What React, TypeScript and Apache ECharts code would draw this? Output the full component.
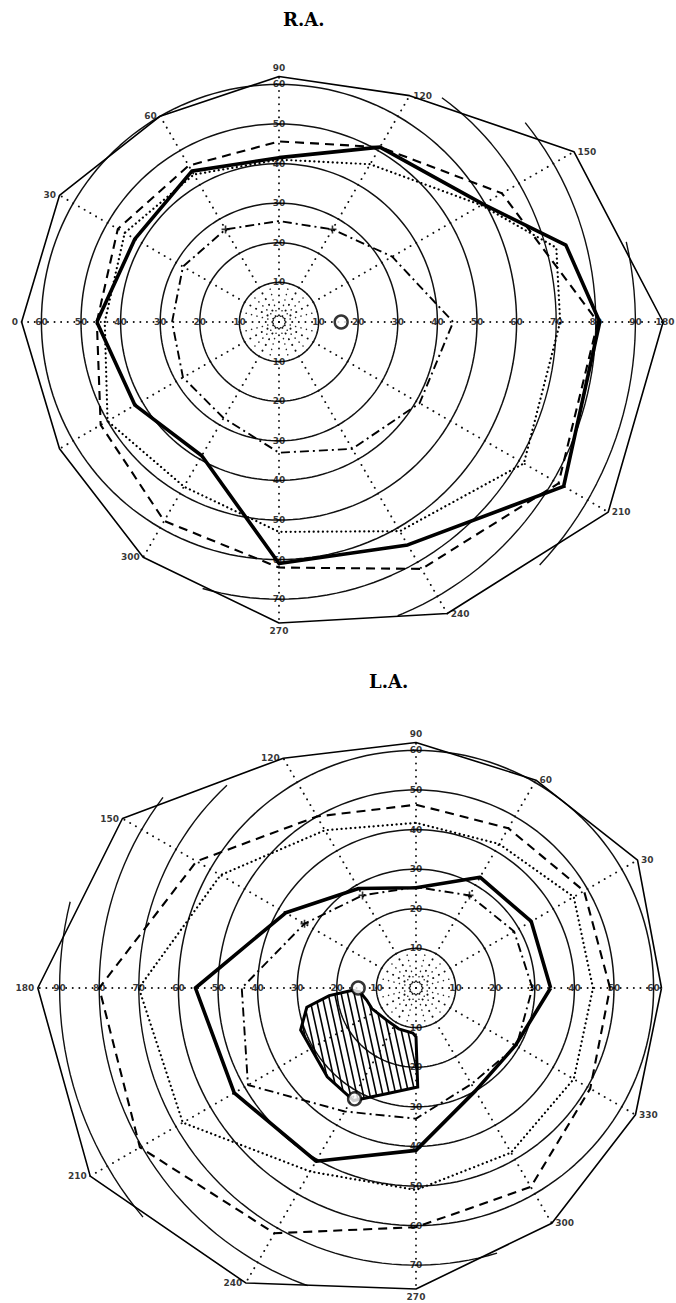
import React, { useEffect, useRef } from "react";
import * as echarts from "echarts";

type P = [number, number]; // [meridian angle (deg), eccentricity (deg)]

// ---------- R.A. (0 at left, angles increase clockwise) ----------
const RA_NORMAL: P[] = [[0, 65], [30, 64], [60, 60], [90, 62], [120, 66], [150, 86], [180, 97], [210, 96], [240, 85], [270, 76], [300, 68.6], [330, 64]];
const RA_THICK: P[] = [[0, 46], [30, 42], [60, 44], [90, 41.5], [120, 51], [150, 59.5], [165, 75], [180, 81], [210, 83], [240, 65], [270, 61], [300, 39], [330, 42]];
const RA_DASHED: P[] = [[0, 46], [30, 47], [60, 45.6], [90, 45.6], [120, 51], [150, 65], [180, 80.5], [210, 81.5], [240, 72], [270, 62], [300, 58], [330, 52]];
const RA_DOTTED: P[] = [[0, 44], [30, 45], [60, 43], [90, 41], [120, 46], [150, 59], [165, 72.5], [180, 71], [210, 71.4], [240, 61], [270, 53], [300, 48], [330, 50]];
const RA_DASHDOT: P[] = [[0, 27], [30, 28], [60, 27], [90, 25.5], [120, 27], [150, 33], [180, 44], [210, 41], [240, 37], [270, 33], [300, 28], [330, 28]];
const RA_CROSSES: P[] = [[60, 27], [120, 27]];
const RA_BLIND: P[] = [[180, 15.7]];
const RA_OUTER_ARCS: [number, number, number][] = [[70, 126, 286], [80, 141, 248], [90, 167, 223]];
const RA_LBL_0 = [10, 20, 30, 40, 50, 60];
const RA_LBL_90 = [10, 20, 30, 40, 50, 60];
const RA_LBL_180 = [10, 20, 30, 40, 50, 60, 70, 80, 90];
const RA_LBL_270 = [10, 20, 30, 40, 50, 60, 70];
const RA_MERIDIAN_TEXT = [0, 30, 60, 90, 120, 150, 180, 210, 240, 270, 300];

// ---------- L.A. (0 at right, angles increase counter-clockwise) ----------
const LA_NORMAL: P[] = [[0, 62], [30, 64.6], [60, 60.6], [90, 62], [120, 67], [150, 85.6], [180, 95.5], [210, 95], [240, 86], [270, 76], [300, 68.6], [330, 64]];
const LA_THICK: P[] = [[0, 34], [30, 33.6], [60, 32.3], [90, 25.3], [120, 29], [150, 38], [180, 55.7], [210, 53], [240, 50.5], [270, 41], [300, 30], [330, 29]];
const LA_DASHED: P[] = [[0, 49], [30, 49], [60, 46.6], [90, 46.3], [120, 50], [150, 64], [180, 80], [210, 80.5], [240, 71.5], [270, 60.4], [300, 58], [330, 50.8]];
const LA_DOTTED: P[] = [[0, 44.7], [30, 46], [60, 42], [90, 41.7], [120, 46], [150, 57], [180, 70], [210, 68], [240, 53.5], [270, 51], [300, 48], [330, 46]];
const LA_DASHDOT: P[] = [[0, 29.4], [30, 28.6], [60, 27], [90, 25.5], [120, 27], [150, 32.5], [180, 44], [210, 49], [240, 36], [270, 33], [300, 28], [330, 29.3]];
const LA_CROSSES: P[] = [[60, 27], [120, 27], [150, 32.5]];
const LA_SCOTOMA: P[] = [[182, 16], [185, 22], [190, 28], [200, 31], [225, 31.7], [241, 32.5], [255, 27.6], [271, 25], [270, 12.3], [266, 11.4], [247, 11.2], [227, 11], [205, 12.3], [194, 12.8], [184, 14.2]];
const LA_BLIND: P[] = [[180, 14.6], [241, 32]];
const LA_OUTER_ARCS: [number, number, number][] = [[70, 133, 287], [80, 143, 250], [90, 166, 220]];
const LA_LBL_0 = [10, 20, 30, 40, 50, 60];
const LA_LBL_90 = [10, 20, 30, 40, 50, 60];
const LA_LBL_180 = [10, 20, 30, 40, 50, 60, 70, 80, 90];
const LA_LBL_270 = [10, 20, 30, 40, 50, 60, 70];
const LA_MERIDIAN_TEXT = [30, 60, 90, 120, 150, 180, 210, 240, 270, 300, 330];

const FULL_RINGS = [10, 20, 30, 40, 50, 60];
const INNER_RADIALS = [15, 45, 75, 105, 135, 165, 195, 225, 255, 285, 315, 345];

function arcPts(ring: number, from: number, to: number) {
  const pts: number[][] = [];
  for (let a = from; a < to; a += 2) pts.push([ring, a]);
  pts.push([ring, to]);
  return pts;
}
function closed(poly: P[]) {
  const d = poly.map(([a, r]) => [r, a]);
  d.push([poly[0][1], poly[0][0]]);
  return d;
}
function side(a: number, cwFromLeft: boolean) {
  const sa = ((cwFromLeft ? 180 - a : a) * Math.PI) / 180;
  const c = Math.cos(sa), s = Math.sin(sa);
  if (c > 0.35) return "right";
  if (c < -0.35) return "left";
  return s > 0 ? "top" : "bottom";
}

const LABEL_FONT = { color: "#000", fontSize: 9, fontWeight: "bold" as const, fontFamily: "DejaVu Sans" };
const CROSS = "path://M4,0H6V4H10V6H6V10H4V6H0V4H4Z";

function eyeSeries(pi: number, eye: any) {
  const s: any[] = [];
  const base = { type: "line", coordinateSystem: "polar", polarIndex: pi, symbol: "none", silent: true };
  FULL_RINGS.forEach((ring) => s.push({ ...base, z: 2, data: arcPts(ring, 0, 360), lineStyle: { color: "#111", width: 1.5 } }));
  eye.arcs.forEach(([ring, f, t]: number[]) => s.push({ ...base, z: 2, data: arcPts(ring, f, t), lineStyle: { color: "#111", width: 1.4 } }));
  eye.normal.forEach(([a, r]: P) =>
    s.push({ ...base, z: 1, data: [[0, a], [r, a]], lineStyle: { color: "#111", width: 1.9, type: [0.1, 6.5], cap: "round" } })
  );
  INNER_RADIALS.forEach((a) =>
    s.push({ ...base, z: 1, data: [[1.5, a], [10, a]], lineStyle: { color: "#222", width: 1.5, type: [0.1, 5.5], cap: "round" } })
  );
  s.push({ ...base, z: 4, data: closed(eye.normal), lineStyle: { color: "#000", width: 1.6 } });
  s.push({ ...base, z: 5, data: closed(eye.thick), lineStyle: { color: "#000", width: 3.6, join: "round" } });
  s.push({ ...base, z: 4, data: closed(eye.dashed), lineStyle: { color: "#000", width: 2.1, type: [9, 6] } });
  s.push({ ...base, z: 4, data: closed(eye.dotted), lineStyle: { color: "#000", width: 2.2, type: [0.1, 4.5], cap: "round" } });
  s.push({ ...base, z: 4, data: closed(eye.dashdot), lineStyle: { color: "#000", width: 1.9, type: [9, 4, 2, 4] } });
  // crosses on the dash-dot line
  s.push({
    type: "scatter", coordinateSystem: "polar", polarIndex: pi, silent: true, z: 6,
    symbol: CROSS, symbolSize: 8, itemStyle: { color: "#000" },
    data: eye.crosses.map(([a, r]: P) => [r, a]),
  });
  // ring numbers
  s.push({
    type: "scatter", coordinateSystem: "polar", polarIndex: pi, silent: true, z: 10,
    symbolSize: 1, itemStyle: { color: "rgba(0,0,0,0)" },
    label: { show: true, position: "inside", formatter: "{b}", ...LABEL_FONT },
    data: eye.labelSets.flatMap(([a, vals]: [number, number[]]) => vals.map((v) => ({ name: String(v), value: [v, a] }))),
  });
  // meridian numbers at the limits of the normal field
  s.push({
    type: "scatter", coordinateSystem: "polar", polarIndex: pi, silent: true, z: 10,
    symbolSize: 1, itemStyle: { color: "rgba(0,0,0,0)" },
    data: eye.meridianText.map((a: number) => {
      const r = (eye.normal as P[]).find((p) => p[0] === a)![1];
      const pos = side(a, eye.cw);
      const edge = eye.cw && a === 180; // right page edge: pull the text in
      return {
        name: String(a), value: [r, a],
        label: { show: true, formatter: "{b}", position: pos, distance: 3, offset: edge ? [-11, 0] : [0, 0], ...LABEL_FONT },
      };
    }),
  });
  // blind spot
  s.push({
    type: "scatter", coordinateSystem: "polar", polarIndex: pi, silent: true, z: 11,
    symbol: "circle", symbolSize: 13,
    itemStyle: { color: "#fff", borderColor: "#000", borderWidth: 2.4 },
    data: eye.blind.map(([a, r]: P) => [r, a]),
  });
  return s;
}

function scotomaSeries(pi: number) {
  return {
    type: "custom", coordinateSystem: "polar", polarIndex: pi, silent: true, z: 8,
    data: [[0, 0]],
    renderItem: (_params: any, api: any) => {
      const pts: number[][] = LA_SCOTOMA.map(([a, r]) => api.coord([r, a]));
      const sh = 0.22;
      const us = pts.map(([x, y]) => x - sh * y);
      const uMin = Math.min(...us), uMax = Math.max(...us);
      const children: any[] = [];
      for (let u0 = uMin + 3; u0 < uMax; u0 += 6.5) {
        const ys: number[] = [];
        for (let i = 0; i < pts.length; i++) {
          const j = (i + 1) % pts.length;
          const u1 = us[i], u2 = us[j];
          if ((u1 - u0) * (u2 - u0) < 0) {
            const t = (u0 - u1) / (u2 - u1);
            ys.push(pts[i][1] + t * (pts[j][1] - pts[i][1]));
          }
        }
        ys.sort((p, q) => p - q);
        for (let k = 0; k + 1 < ys.length; k += 2) {
          children.push({
            type: "line",
            shape: { x1: u0 + sh * ys[k], y1: ys[k], x2: u0 + sh * ys[k + 1], y2: ys[k + 1] },
            style: { stroke: "#000", lineWidth: 1.6 },
          });
        }
      }
      children.push({ type: "polygon", shape: { points: pts }, style: { fill: "none", stroke: "#000", lineWidth: 3 } });
      return { type: "group", children };
    },
  };
}

export default function App() {
  const ref = useRef<HTMLDivElement>(null);
  useEffect(() => {
    if (!ref.current) return;
    const chart = echarts.init(ref.current, undefined, { renderer: "svg" });
    const ra = {
      normal: RA_NORMAL, thick: RA_THICK, dashed: RA_DASHED, dotted: RA_DOTTED, dashdot: RA_DASHDOT,
      crosses: RA_CROSSES, arcs: RA_OUTER_ARCS, blind: RA_BLIND, cw: true, meridianText: RA_MERIDIAN_TEXT,
      labelSets: [[0, RA_LBL_0], [90, RA_LBL_90], [180, RA_LBL_180], [270, RA_LBL_270]],
    };
    const la = {
      normal: LA_NORMAL, thick: LA_THICK, dashed: LA_DASHED, dotted: LA_DOTTED, dashdot: LA_DASHDOT,
      crosses: LA_CROSSES, arcs: LA_OUTER_ARCS, blind: LA_BLIND, cw: false, meridianText: LA_MERIDIAN_TEXT,
      labelSets: [[0, LA_LBL_0], [90, LA_LBL_90], [180, LA_LBL_180], [270, LA_LBL_270]],
    };
    chart.setOption({
      animation: false,
      backgroundColor: "#fff",
      title: [
        { text: "R.A.", left: 283, top: 10, padding: 0, textStyle: { fontFamily: "DejaVu Serif", fontWeight: "bold", fontSize: 18, color: "#000" } },
        { text: "L.A.", left: 369, top: 672, padding: 0, textStyle: { fontFamily: "DejaVu Serif", fontWeight: "bold", fontSize: 18, color: "#000" } },
      ],
      polar: [
        { center: [279, 322], radius: 396 },
        { center: [416, 988], radius: 396 },
      ],
      angleAxis: [
        { polarIndex: 0, type: "value", min: 0, max: 360, startAngle: 180, clockwise: true, show: false },
        { polarIndex: 1, type: "value", min: 0, max: 360, startAngle: 0, clockwise: false, show: false },
      ],
      radiusAxis: [
        { polarIndex: 0, type: "value", min: 0, max: 100, show: false },
        { polarIndex: 1, type: "value", min: 0, max: 100, show: false },
      ],
      series: [...eyeSeries(0, ra), ...eyeSeries(1, la), scotomaSeries(1)],
    });
    return () => chart.dispose();
  }, []);
  return <div ref={ref} style={{ position: "absolute", left: 0, top: 0, width: 676, height: 1303, background: "#fff" }} />;
}
